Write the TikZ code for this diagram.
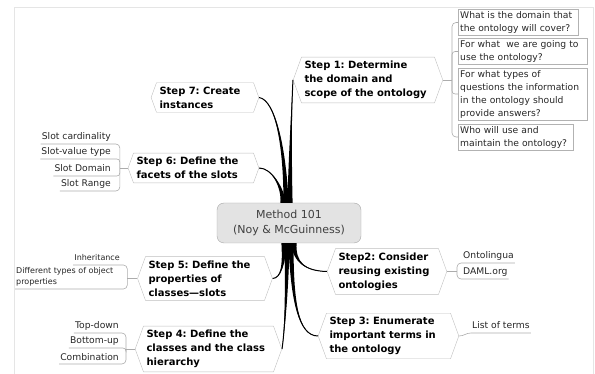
\documentclass[tikz,border=0pt]{standalone}
\usepackage{fontspec}
\setmainfont{DejaVu Sans}
\usetikzlibrary{shapes.symbols,calc}
\frenchspacing

\newcommand\stepfont{\bfseries\fontsize{10}{14}\selectfont}
\newcommand\leaffont{\fontsize{9.2}{13}\selectfont}
\newcommand\tinyleaf{\fontsize{8}{11}\selectfont}

% tapered branch from the hub: start, end, two control points
\newcommand\limb[4]{%
  \fill[limb] ($(#1)+(-2.6,0)$) .. controls ($(#3)+(-1.3,0)$) and (#4) .. (#2)
     .. controls (#4) and ($(#3)+(1.3,0)$) .. ($(#1)+(2.6,0)$) -- cycle;
  \draw[black, line width=1pt] (#1) .. controls (#3) and (#4) .. (#2);}

\tikzset{
  stepbox/.style={signal, signal to=west and east, signal pointer angle=140,
    draw=gray!50, align=left, inner xsep=3pt, inner ysep=4pt, font=\stepfont},
  hubbox/.style={rounded corners=7pt, draw=gray!70, fill=gray!22,
    minimum width=144pt, minimum height=40pt, align=center,
    font=\fontsize{11}{15}\selectfont, text=black!75},
  askbox/.style={draw=gray!60, align=left, inner sep=2pt, anchor=west,
    font=\leaffont, text=black!85},
  leaf/.style={inner xsep=1pt, inner ysep=1.5pt, text depth=2.3pt,
    font=\leaffont, text=black!85},
  twig/.style={draw=gray!65, line width=0.6pt},
  limb/.style={fill=black},
}

\begin{document}
\begin{tikzpicture}[x=1pt,y=-1pt]
\useasboundingbox (0,0) rectangle (595,374);
\draw[gray!20] (14,380) -- (14,7) -- (593,7) -- (593,380);

\node[hubbox] (hub) at (289,223) {Method 101\\(Noy \& McGuinness)};

% steps
\node[stepbox, text width=127pt] (s1) at (368,80) {Step 1: Determine\\the domain and\\scope of the ontology};
\node[stepbox, text width=97pt] (s2) at (387,271.5) {Step2: Consider\\reusing existing\\ontologies};
\node[stepbox, text width=118pt] (s3) at (388.5,336) {Step 3: Enumerate\\important terms in\\the ontology};
\node[stepbox, text width=124pt] (s4) at (208.5,349) {Step 4: Define the\\classes and the class\\hierarchy};
\node[stepbox, text width=113pt] (s5) at (205,278.5) {Step 5: Define the\\properties of\\classes—slots};
\node[stepbox, text width=114pt] (s6) at (193.5,168) {Step 6: Define the\\facets of the slots};
\node[stepbox, text width=91pt] (s7) at (205,97.5) {Step 7: Create\\instances};

% branches
\coordinate (h1) at ($(hub.north)+(1,0)$);
\coordinate (h7) at ($(hub.north)+(-3,0)$);
\coordinate (h6) at ($(hub.north)+(-6,0)$);
\coordinate (h5) at ($(hub.south)+(-5,0)$);
\coordinate (h4) at ($(hub.south)+(-2,0)$);
\coordinate (h3) at ($(hub.south)+(2,0)$);
\coordinate (h2) at ($(hub.south)+(5,0)$);
\limb{h1}{s1.west}{290,150}{292,100}
\limb{h7}{s7.east}{285,150}{276,100}
\limb{h6}{s6.east}{283,188}{272,168}
\limb{h5}{s5.east}{284,265}{281,278}
\limb{h4}{s4.east}{287,300}{284,335}
\limb{h3}{s3.west}{292,300}{298,336}
\limb{h2}{s2.west}{294,262}{305,271}

% step 1 questions
\node[askbox, text width=116pt] (q1) at (458,22.5) {What is the domain that\\the ontology will cover?};
\node[askbox, text width=125pt] (q2) at (458,51.5) {For what~ we are going to\\use the ontology?};
\node[askbox, text width=125pt] (q3) at (458,94) {For what types of\\questions the information\\in the ontology should\\provide answers?};
\node[askbox, text width=111pt] (q4) at (458,137) {Who will use and\\maintain the ontology?};
\coordinate (j1) at ($(s1.east)+(9,0)$);
\draw[twig] (s1.east) -- (j1);
\draw[twig, rounded corners=4pt] (q1.west) -| (j1) |- (q4.west);
\draw[twig, rounded corners=3pt] (q2.west) -| (j1);
\draw[twig, rounded corners=3pt] (q3.west) -| (j1);

% step 2
\node[leaf, anchor=south west] (o1) at (462,263) {Ontolingua};
\node[leaf, anchor=south west] (o2) at (462,279) {DAML.org};
\coordinate (j2) at ($(s2.east)+(10,0)$);
\draw[twig] (s2.east) -- (j2);
\draw[twig, rounded corners=4pt] (o1.south east) -| (j2) |- (o2.south east);

% step 3
\node[leaf, anchor=south west] (t1) at (471,333) {List of terms};
\draw[twig] (s3.east) to[out=0,in=180] (t1.south west) -- (t1.south east);

% step 4
\node[leaf, anchor=south east] (g1) at (120,333) {Top-down};
\node[leaf, anchor=south east] (g2) at (120,348) {Bottom-up};
\node[leaf, anchor=south east] (g3) at (120,364) {Combination};
\coordinate (j4) at ($(s4.west)+(-9,0)$);
\draw[twig] (j4) -- (s4.west);
\draw[twig, rounded corners=4pt] (g1.south west) -| (j4) |- (g3.south west);
\draw[twig, rounded corners=3pt] (g2.south west) -| (j4);

% step 5
\node[leaf, font=\tinyleaf, anchor=south east] (e1) at (121,265) {Inheritance};
\node[leaf, font=\tinyleaf, align=left, anchor=south west] (e2) at (15,289) {Different types of object\\properties};
\coordinate (j5) at ($(s5.west)+(-10,0)$);
\draw[twig] (j5) -- (s5.west);
\draw[twig, rounded corners=4pt] (e1.south west) -| (j5) |- (e2.south west);

% step 6
\node[leaf, anchor=south east] (f1) at (112,144) {Slot cardinality};
\node[leaf, anchor=south east] (f2) at (112,159) {Slot-value type};
\node[leaf, anchor=south east] (f3) at (112,176) {Slot Domain};
\node[leaf, anchor=south east] (f4) at (112,191) {Slot Range};
\coordinate (j6) at ($(s6.west)+(-8,0)$);
\draw[twig] (j6) -- (s6.west);
\draw[twig, rounded corners=4pt] (f1.south west) -| (j6) |- (f4.south west);
\draw[twig, rounded corners=3pt] (f2.south west) -| (j6);
\draw[twig, rounded corners=3pt] (f3.south west) -| (j6);

\end{tikzpicture}
\end{document}
